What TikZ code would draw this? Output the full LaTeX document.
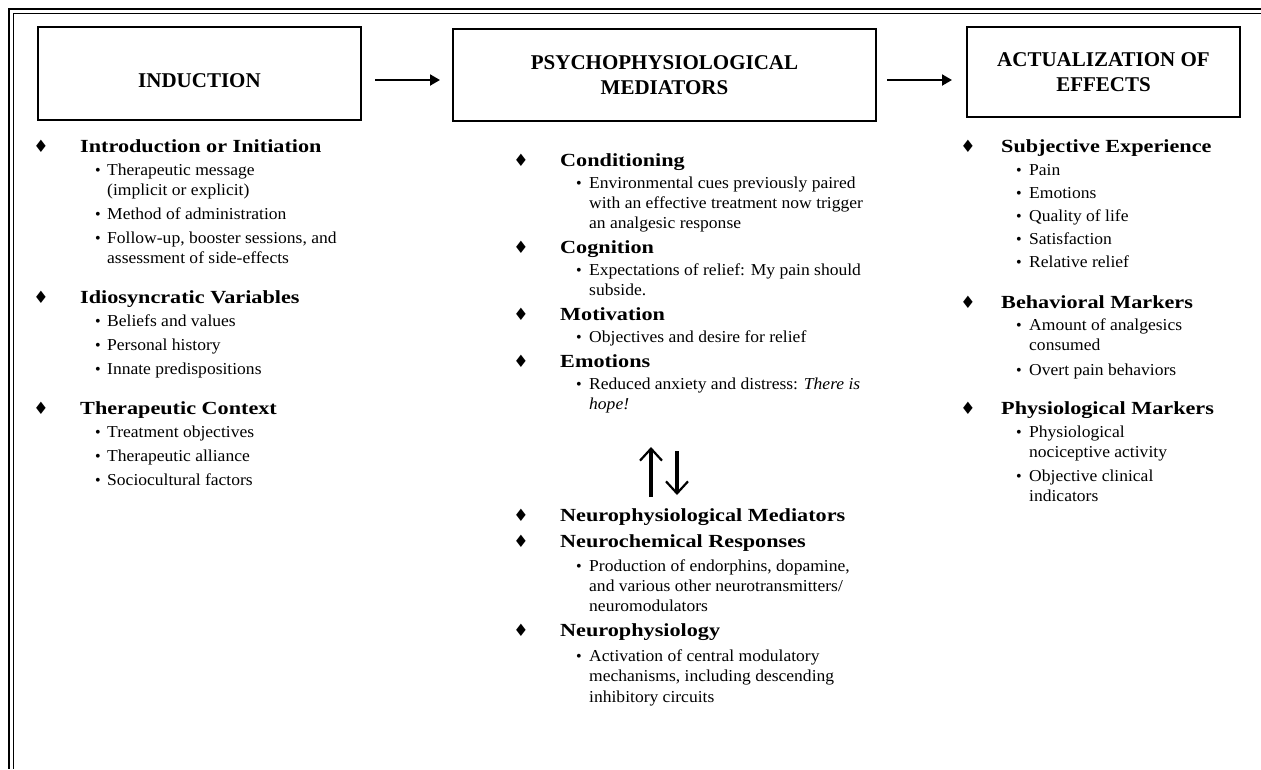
\documentclass[tikz,border=0pt]{standalone}
\usepackage{fontspec}
\setmainfont{Liberation Serif}
\newfontfamily\hdfont[FakeStretch=1.2]{Liberation Serif}
\newfontfamily\bdfont[FakeStretch=1.05]{Liberation Serif}
\newfontfamily\symfont{DejaVu Sans}
\usetikzlibrary{arrows.meta,calc}
\newcommand\HeadLine[5]{\node[dmark] (#1d) at (#2,#4) {♦}; \node[headtxt] (#1) at (#3,#4) {#5};}
\newcommand\BulLine[5]{\node[bmark] (#1b) at (#2,#4) {•}; \node[bodytxt] (#1) at (#3,#4) {#5};}
\newcommand\ConLine[4]{\node[bodytxt] (#1) at (#2,#3) {#4};}
\begin{document}
\begin{tikzpicture}[x=1pt,y=-1pt,
  titlebox/.style={draw, line width=2pt, inner sep=0pt, align=center, font=\fontsize{21}{25}\selectfont\bfseries},
  dmark/.style={anchor=base, inner sep=0pt, font=\symfont\fontsize{17}{17}\selectfont},
  bmark/.style={anchor=base, inner sep=0pt, font=\fontsize{16}{16}\selectfont},
  headtxt/.style={anchor=base west, inner sep=0pt, font=\hdfont\bfseries\fontsize{18.5}{20}\selectfont},
  bodytxt/.style={anchor=base west, inner sep=0pt, font=\bdfont\fontsize{16.7}{20}\selectfont},
  flowarrow/.style={line width=2pt, -{Triangle[length=10pt,width=11pt]}},
  bigarrow/.style={line width=4.5pt, -{Straight Barb[length=12pt,width=22pt,line width=2.2pt]}}]
\useasboundingbox (0,0) rectangle (1261,769);
% frame
\draw[line width=2.8pt] (1261,9) -- (9,9) -- (9,769);
\draw[line width=1pt] (1261,13.5) -- (13.5,13.5) -- (13.5,769);
% boxes
\node[titlebox, minimum width=323pt, minimum height=93pt, text height=27pt, text depth=0pt] (b1) at (199.5,73.5) {INDUCTION};
\node[titlebox, minimum width=423pt, minimum height=92pt] (b2) at (664.5,75) {PSYCHOPHYSIOLOGICAL\\MEDIATORS};
\node[titlebox, minimum width=273pt, minimum height=90pt] (b3) at (1103.5,72) {ACTUALIZATION OF\\EFFECTS};
\draw[flowarrow] ($(b1.east)+(13,6.5)$) -- ($(b2.west)+(-12,5)$);
\draw[flowarrow] ($(b2.east)+(10,5)$) -- ($(b3.west)+(-14,8)$);
% column 1
\HeadLine{c1h1}{41}{80}{152}{Introduction or Initiation}
\BulLine{c1a}{98}{107}{175}{Therapeutic message}
\ConLine{c1a2}{107}{195}{(implicit or explicit)}
\BulLine{c1b}{98}{107}{219}{Method of administration}
\BulLine{c1c}{98}{107}{243}{Follow-up, booster sessions, and}
\ConLine{c1c2}{107}{263}{assessment of side-effects}
\HeadLine{c1h2}{41}{80}{303}{Idiosyncratic Variables}
\BulLine{c1d}{98}{107}{326}{Beliefs and values}
\BulLine{c1e}{98}{107}{350}{Personal history}
\BulLine{c1f}{98}{107}{374}{Innate predispositions}
\HeadLine{c1h3}{41}{80}{414}{Therapeutic Context}
\BulLine{c1g}{98}{107}{437}{Treatment objectives}
\BulLine{c1h}{98}{107}{461}{Therapeutic alliance}
\BulLine{c1i}{98}{107}{485}{Sociocultural factors}
% column 2
\HeadLine{c2h1}{521}{560}{166}{Conditioning}
\BulLine{c2a}{579}{589}{188}{Environmental cues previously paired}
\ConLine{c2a2}{589}{208}{with an effective treatment now trigger}
\ConLine{c2a3}{589}{228}{an analgesic response}
\HeadLine{c2h2}{521}{560}{253}{Cognition}
\BulLine{c2b}{579}{589}{275}{Expectations of relief: My pain should}
\ConLine{c2b2}{589}{295}{subside.}
\HeadLine{c2h3}{521}{560}{320}{Motivation}
\BulLine{c2c}{579}{589}{342}{Objectives and desire for relief}
\HeadLine{c2h4}{521}{560}{367}{Emotions}
\BulLine{c2d}{579}{589}{389}{Reduced anxiety and distress: \textit{There is}}
\ConLine{c2d2}{589}{409}{\textit{hope!}}
\coordinate (upS) at (651,497);
\coordinate (upE) at (651,447);
\coordinate (dnS) at (677,451);
\coordinate (dnE) at (677,495);
\draw[bigarrow] (upS) -- (upE);
\draw[bigarrow] (dnS) -- (dnE);
\HeadLine{c2h5}{521}{560}{521}{Neurophysiological Mediators}
\HeadLine{c2h6}{521}{560}{547}{Neurochemical Responses}
\BulLine{c2e}{579}{589}{571}{Production of endorphins, dopamine,}
\ConLine{c2e2}{589}{591}{and various other neurotransmitters/}
\ConLine{c2e3}{589}{611}{neuromodulators}
\HeadLine{c2h7}{521}{560}{636}{Neurophysiology}
\BulLine{c2f}{579}{589}{661}{Activation of central modulatory}
\ConLine{c2f2}{589}{681}{mechanisms, including descending}
\ConLine{c2f3}{589}{702}{inhibitory circuits}
% column 3
\HeadLine{c3h1}{968}{1001}{152}{Subjective Experience}
\BulLine{c3a}{1019}{1029}{175}{Pain}
\BulLine{c3b}{1019}{1029}{198}{Emotions}
\BulLine{c3c}{1019}{1029}{221}{Quality of life}
\BulLine{c3d}{1019}{1029}{244}{Satisfaction}
\BulLine{c3e}{1019}{1029}{267}{Relative relief}
\HeadLine{c3h2}{968}{1001}{308}{Behavioral Markers}
\BulLine{c3f}{1019}{1029}{330}{Amount of analgesics}
\ConLine{c3f2}{1029}{350}{consumed}
\BulLine{c3g}{1019}{1029}{375}{Overt pain behaviors}
\HeadLine{c3h3}{968}{1001}{414}{Physiological Markers}
\BulLine{c3i}{1019}{1029}{437}{Physiological}
\ConLine{c3i2}{1029}{457}{nociceptive activity}
\BulLine{c3j}{1019}{1029}{481}{Objective clinical}
\ConLine{c3j2}{1029}{501}{indicators}
\end{tikzpicture}
\end{document}
